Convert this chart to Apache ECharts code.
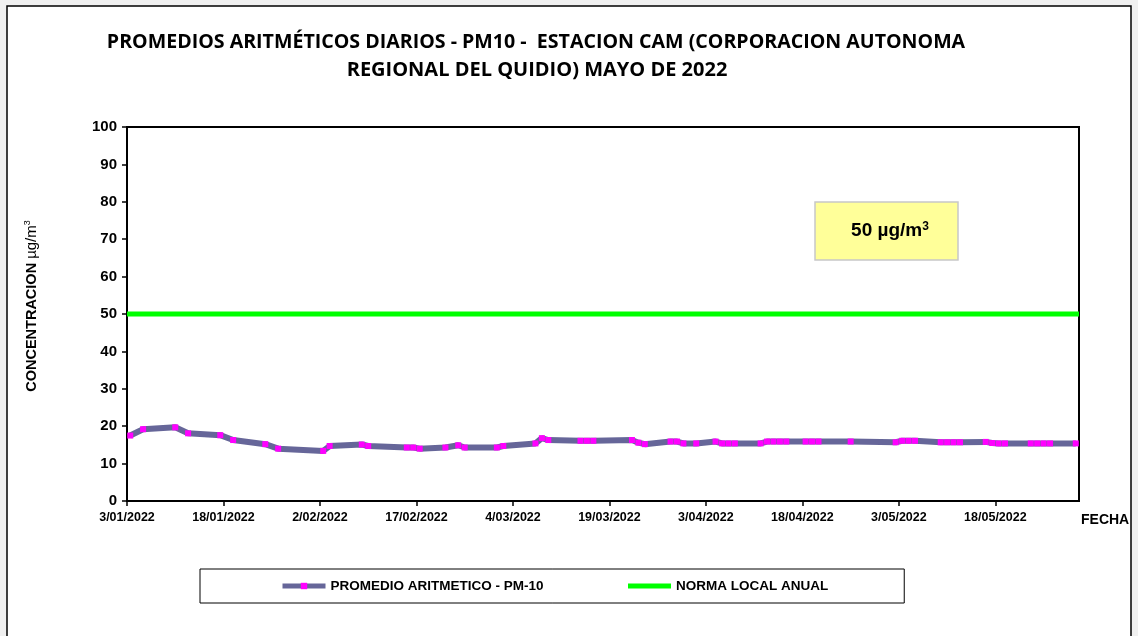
<!DOCTYPE html>
<html>
<head>
<meta charset="utf-8">
<script src="https://cdn.jsdelivr.net/npm/echarts@6/dist/echarts.min.js"></script>
<style>
html,body{margin:0;padding:0;background:#f0f0f0;}
#c{width:1138px;height:636px;}
</style>
</head>
<body>
<div id="c"></div>
<script>
// ---- data ----
var axisStart = '2022-01-03';
var axisEnd = '2022-05-31';
var pm10Dates = ['2022-01-03','2022-01-05','2022-01-10','2022-01-12','2022-01-17','2022-01-19','2022-01-24','2022-01-26',
  '2022-02-02','2022-02-03','2022-02-08','2022-02-09','2022-02-15','2022-02-16','2022-02-17','2022-02-21','2022-02-23','2022-02-24',
  '2022-03-01','2022-03-02','2022-03-07','2022-03-08','2022-03-09','2022-03-14','2022-03-15','2022-03-16','2022-03-22','2022-03-23','2022-03-24','2022-03-28','2022-03-29','2022-03-30',
  '2022-04-01','2022-04-04','2022-04-05','2022-04-06','2022-04-07','2022-04-11','2022-04-12','2022-04-13','2022-04-14','2022-04-15','2022-04-18','2022-04-19','2022-04-20','2022-04-25',
  '2022-05-02','2022-05-03','2022-05-04','2022-05-05','2022-05-09','2022-05-10','2022-05-11','2022-05-12','2022-05-16','2022-05-17','2022-05-18','2022-05-19','2022-05-23','2022-05-24','2022-05-25','2022-05-26','2022-05-30'];
var pm10Values = [17.5,19.2,19.7,18.1,17.6,16.3,15.2,14.0,
  13.4,14.7,15.1,14.7,14.3,14.3,14.0,14.3,14.9,14.3,
  14.3,14.7,15.4,16.8,16.3,16.1,16.1,16.1,16.3,15.6,15.2,15.9,15.9,15.4,
  15.4,15.9,15.4,15.4,15.4,15.4,15.9,15.9,15.9,15.9,15.9,15.9,15.9,15.9,
  15.7,16.1,16.1,16.1,15.7,15.7,15.7,15.7,15.8,15.5,15.4,15.4,15.4,15.4,15.4,15.4,15.4];
var normaValue = 50;
var tickStepDays = 15;
var yTicks = {min:0, max:100, step:10};
var seriesNames = ['PROMEDIO ARITMETICO - PM-10','NORMA LOCAL ANUAL'];

// ---- helpers ----
var DAY = 86400000;
function toUTC(s){var p=s.split('-');return Date.UTC(+p[0],+p[1]-1,+p[2]);}
var t0 = toUTC(axisStart);
function dayIndex(s){return Math.round((toUTC(s)-t0)/DAY);}
var endDay = dayIndex(axisEnd);
function fmt(d){var dt=new Date(t0+Math.round(d)*DAY);var m=dt.getUTCMonth()+1;return dt.getUTCDate()+'/'+(m<10?'0'+m:m)+'/'+dt.getUTCFullYear();}

var pmData = pm10Dates.map(function(d,i){return [dayIndex(d)+0.5, pm10Values[i]];});
var normaData = [[0,normaValue],[endDay,normaValue]];

var chart = echarts.init(document.getElementById('c'));
var F = 'Liberation Sans, Arial, sans-serif';
var TF = '"Open Sans", sans-serif';
chart.setOption({
  backgroundColor:'#f0f0f0',
  animation:false,
  grid:{left:127,right:59,top:127,bottom:135,show:true,borderColor:'#000',borderWidth:2,backgroundColor:'#fff'},
  xAxis:{type:'value',min:0,max:endDay,interval:tickStepDays,
    axisLine:{lineStyle:{color:'#000',width:2}},
    axisTick:{show:true,length:5,lineStyle:{color:'#000',width:1.5}},
    splitLine:{show:false},
    axisLabel:{formatter:function(v){return fmt(v);},showMaxLabel:false,color:'#000',fontWeight:'bold',fontFamily:F,fontSize:12.5,margin:10}
  },
  yAxis:{type:'value',min:yTicks.min,max:yTicks.max,interval:yTicks.step,
    axisLine:{show:true,lineStyle:{color:'#000',width:2}},
    axisTick:{show:true,length:5,lineStyle:{color:'#000',width:1.5}},
    splitLine:{show:false},
    axisLabel:{color:'#000',fontWeight:'bold',fontFamily:F,fontSize:15,margin:10}
  },
  legend:{left:200,top:569,orient:'horizontal',
    padding:[10,76,10,80],itemGap:82,itemWidth:43,itemHeight:8,
    borderColor:'#000',borderWidth:1,backgroundColor:'#fff',
    lineStyle:{width:5},
    textStyle:{fontFamily:F,fontWeight:'bold',fontSize:13.5,color:'#000'},
    data:[{name:seriesNames[0]},{name:seriesNames[1],itemStyle:{opacity:0}}]
  },
  series:[
    {name:seriesNames[1],type:'line',data:normaData,symbol:'none',lineStyle:{color:'#00ff00',width:5},itemStyle:{color:'#00ff00'},z:2},
    {name:seriesNames[0],type:'line',data:pmData,symbol:'rect',symbolSize:6,showAllSymbol:true,
      lineStyle:{color:'#666699',width:6},itemStyle:{color:'#ff00ff',borderWidth:0},z:3}
  ],
  graphic:[
    {type:'rect',z:-10,shape:{x:7,y:6,width:1124,height:640},style:{fill:'#fff',stroke:'#000',lineWidth:1.5}},
    {type:'text',z:10,x:536,y:42,scaleX:0.98,style:{text:'PROMEDIOS ARITMÉTICOS DIARIOS - PM10 -  ESTACION CAM (CORPORACION AUTONOMA',font:'bold 20px '+TF,fill:'#000',align:'center',verticalAlign:'middle'}},
    {type:'text',z:10,x:537,y:70,scaleX:1.0,style:{text:'REGIONAL DEL QUIDIO) MAYO DE 2022',font:'bold 20px '+TF,fill:'#000',align:'center',verticalAlign:'middle'}},
    {type:'text',z:10,x:32,y:306,rotation:Math.PI/2,style:{align:'center',verticalAlign:'middle',
      text:'{a|CONCENTRACION }{b|µg/m}{c|3}',
      rich:{a:{font:'bold 14.5px '+F,fill:'#000'},b:{font:'15px '+F,fill:'#000'},c:{font:'9px '+F,fill:'#000',verticalAlign:'top',padding:[0,0,8,0]}}}},
    {type:'rect',z:10,shape:{x:815,y:202,width:143,height:58},style:{fill:'#ffff99',stroke:'#c8c8c8',lineWidth:1.5}},
    {type:'text',z:11,x:890,y:231,style:{rich:{n:{font:'bold 19px '+F,fill:'#000'},s:{font:'bold 12px '+F,fill:'#000',verticalAlign:'top',padding:[0,0,9,0]}},text:'{n|50 µg/m}{s|3}',align:'center',verticalAlign:'middle'}},
    {type:'text',z:11,x:1081,y:513,style:{text:'FECHA',font:'bold 14px '+F,fill:'#000'}}
  ]
});
</script>
</body>
</html>
